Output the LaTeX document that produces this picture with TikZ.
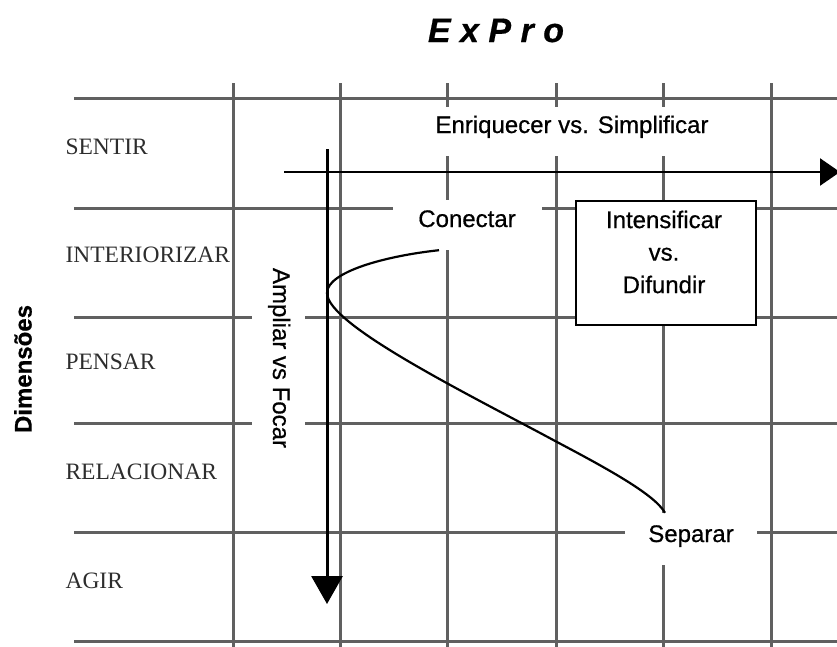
\documentclass[tikz,border=0pt]{standalone}
\usepackage{fontspec}
\setmainfont{Liberation Serif}
\setsansfont{Liberation Sans}[FakeBold=0.6]
\newfontfamily\labelsans{Liberation Sans}[FakeBold=0.6,AutoFakeBold=0.6]
\usetikzlibrary{arrows.meta}
\definecolor{gridgray}{RGB}{96,96,96}
\definecolor{dimgray}{RGB}{45,45,45}
\tikzset{
  gridline/.style={line width=3pt, gridgray},
  dimlabel/.style={anchor=base west, text=dimgray, font=\fontsize{23.5}{28}\selectfont},
  gapnode/.style={fill=white, inner sep=0pt, text height=17pt, font=\labelsans\fontsize{24}{29}\selectfont\bfseries},
}

\begin{document}
\begin{tikzpicture}[x=1pt,y=-1pt]
\useasboundingbox (0,0) rectangle (837,646);
\draw [gridline] (74,98) -- (845,98);
\draw [gridline] (74,208) -- (845,208);
\draw [gridline] (74,317) -- (845,317);
\draw [gridline] (74,423) -- (845,423);
\draw [gridline] (74,532) -- (845,532);
\draw [gridline] (74,641) -- (845,641);
\draw [gridline] (233,83) -- (233,650);
\draw [gridline] (340,83) -- (340,650);
\draw [gridline] (447,83) -- (447,650);
\draw [gridline] (556,83) -- (556,650);
\draw [gridline] (663,83) -- (663,650);
\draw [gridline] (771,83) -- (771,650);
\node [anchor=base, font=\sffamily\bfseries\itshape\fontsize{34}{40}\selectfont] (title) at (496,42) {E x P r o};
\node [rotate=90, font=\sffamily\bfseries\fontsize{24}{29}\selectfont] (dimensoes) at (23,369) {Dimensões};
\node [dimlabel] (sentir) at (62,154) {SENTIR};
\node [dimlabel] (interiorizar) at (62,262) {INTERIORIZAR};
\node [dimlabel] (pensar) at (62,369) {PENSAR};
\node [dimlabel] (relacionar) at (62,479) {RELACIONAR};
\node [dimlabel] (agir) at (62,588) {AGIR};
\node [gapnode, minimum width=330pt, minimum height=49pt, text depth=14pt] (enriquecer) at (572,131.5) {Enriquecer vs. Simplificar};
\node [gapnode, minimum width=149pt, minimum height=50pt, text depth=13pt] (conectar) at (467,225) {Conectar};
\node [gapnode, minimum width=132pt, minimum height=52pt, text depth=11pt] (separar) at (691,539) {Separar};
\node [gapnode, rotate=-90, minimum width=220pt, minimum height=53pt, text depth=6pt] (ampliar) at (278.5,358) {Ampliar vs Focar};
\node [draw, line width=2.5pt, fill=white, minimum width=180pt, minimum height=124pt] (difundir) at (666,263) {};
\node [font=\labelsans\fontsize{24}{32.5}\selectfont\bfseries, align=center] (intensificar) at (664,252) {Intensificar\\vs.\\Difundir};
\coordinate (h-start) at (284,172);
\coordinate (h-end) at (840,172);
\draw [line width=2.5pt, -{Triangle[length=20pt,width=27pt]}] (h-start) -- (h-end);
\coordinate (v-start) at (327,149);
\coordinate (v-end) at (327,604);
\draw [line width=3pt, -{Triangle[length=28pt,width=31pt]}] (v-start) -- (v-end);
\draw [line width=2.2pt] ([xshift=-28pt]conectar.south) .. controls (385,256) and (327,272) .. (327,293) .. controls (327,325) and (470,395) .. (557,442) .. controls (610,470) and (655,495) .. ([xshift=-26pt]separar.north);
\end{tikzpicture}
\end{document}
